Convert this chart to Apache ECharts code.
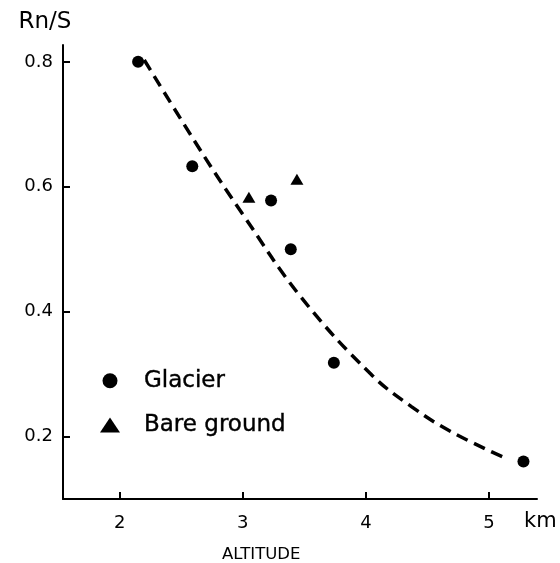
<!DOCTYPE html>
<html>
<head>
<meta charset="utf-8">
<style>
  html, body { margin: 0; padding: 0; background: #fff; }
  #chart { width: 560px; height: 563px; }
</style>
<script src="https://cdn.jsdelivr.net/npm/echarts@6/dist/echarts.min.js"></script>
</head>
<body>
<div id="chart"></div>
<script>
// Altitude (km) and Rn/S ratio for each site type
const glacierAltitude = [2.15, 2.59, 3.23, 3.39, 3.74, 5.28];
const glacierRatio    = [0.80, 0.633, 0.578, 0.50, 0.318, 0.16];
const bareAltitude    = [3.05, 3.44];
const bareRatio       = [0.583, 0.612];

// Hand-fitted trend curve
const trendAltitude = [2.2, 2.68, 3.0, 3.47, 4.04, 4.37, 4.69, 5.14];
const trendRatio    = [0.803, 0.651, 0.556, 0.424, 0.30, 0.248, 0.208, 0.165];

// Axis ticks
const xTicks = [2, 3, 4, 5];
const yTicks = [0.2, 0.4, 0.6, 0.8];

const pairs = (xs, ys) => xs.map((x, i) => [x, ys[i]]);
const FONT = 'DejaVu Sans';
const INK = '#000';

const axisCommon = {
  axisLine: { show: true, lineStyle: { color: INK, width: 2 } },
  axisTick: { show: true, inside: true, length: 7, lineStyle: { color: INK, width: 2 } },
  splitLine: { show: false },
  axisLabel: { color: INK, fontFamily: FONT, fontSize: 18 }
};

const chart = echarts.init(document.getElementById('chart'), null, { renderer: 'canvas' });
chart.setOption({
  animation: false,
  backgroundColor: '#fff',
  textStyle: { fontFamily: FONT, color: INK },
  grid: { left: 63, right: 23, top: 45, bottom: 64, containLabel: false },
  title: {
    text: 'ALTITUDE',
    left: 222, top: 546, padding: 0,
    textStyle: { fontFamily: FONT, fontSize: 16.5, fontWeight: 'normal', color: INK }
  },
  graphic: [{
    type: 'text',
    left: 524, top: 511,
    style: { text: 'km', fontFamily: FONT, fontSize: 21, fill: INK }
  }],
  legend: {
    orient: 'vertical',
    left: 100, top: 369,
    padding: 0,
    itemWidth: 20, itemHeight: 15,
    itemGap: 21,
    selectedMode: false,
    data: ['Glacier', 'Bare ground'],
    textStyle: { fontFamily: FONT, fontSize: 23, color: INK, padding: [0, 0, 0, 19], textBorderColor: INK, textBorderWidth: 0.4 }
  },
  xAxis: Object.assign({}, axisCommon, {
    type: 'value',
    min: 1.54, max: 5.39,
    axisTick: Object.assign({}, axisCommon.axisTick, { customValues: xTicks }),
    axisLabel: Object.assign({}, axisCommon.axisLabel, { customValues: xTicks, margin: 15, formatter: v => String(v) })
  }),
  yAxis: Object.assign({}, axisCommon, {
    type: 'value',
    min: 0.1, max: 0.827,
    name: 'Rn/S',
    nameLocation: 'end',
    nameGap: 11,
    nameTextStyle: { fontFamily: FONT, fontSize: 23, color: INK, align: 'center', padding: [0, 36, 0, 0] },
    axisTick: Object.assign({}, axisCommon.axisTick, { customValues: yTicks }),
    axisLabel: Object.assign({}, axisCommon.axisLabel, { customValues: yTicks, margin: 10, formatter: v => v.toFixed(1) })
  }),
  series: [
    {
      name: 'trend',
      type: 'line',
      data: pairs(trendAltitude, trendRatio),
      smooth: 0.4,
      showSymbol: false,
      symbol: 'none',
      lineStyle: { color: INK, width: 3.5, type: [12, 7], cap: 'butt' },
      silent: true,
      z: 1
    },
    {
      name: 'Glacier',
      type: 'scatter',
      data: pairs(glacierAltitude, glacierRatio),
      symbol: 'circle',
      symbolSize: 12,
      itemStyle: { color: INK, opacity: 1 },
      z: 2
    },
    {
      name: 'Bare ground',
      type: 'scatter',
      data: pairs(bareAltitude, bareRatio),
      symbol: 'triangle',
      symbolSize: [13, 11],
      itemStyle: { color: INK, opacity: 1 },
      z: 2
    }
  ]
});
</script>
</body>
</html>
